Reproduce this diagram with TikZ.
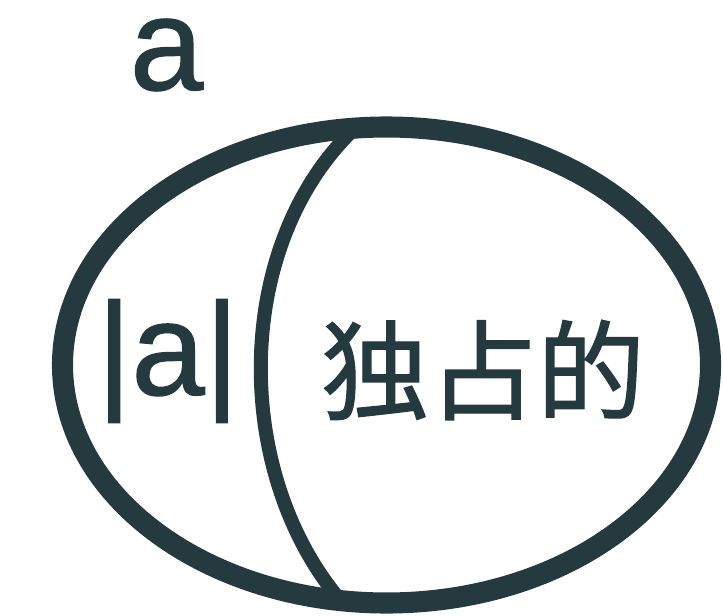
\documentclass[tikz,border=0pt]{standalone}
\usepackage{fontspec}
\setmainfont{Liberation Sans}[FakeBold=1]
\newfontfamily\cjkfont{Noto Sans CJK SC}[FakeBold=1.2]
\usetikzlibrary{positioning}
\definecolor{slate}{HTML}{243A3F}
\tikzset{
  setline/.style={draw=slate, line width=12pt},
  cutline/.style={draw=slate, line width=8pt},
  setlbl/.style={text=slate, inner sep=0pt, font=\fontsize{75}{80}\selectfont},
  cjklbl/.style={text=slate, inner sep=0pt, font=\cjkfont\fontsize{61.5}{66}\selectfont}
}
\begin{document}
\begin{tikzpicture}[x=0.02cm,y=-0.02cm]
  \useasboundingbox (0,0) rectangle (723,615);
  \draw[setline] (386.5,365) ellipse [x radius=324, y radius=238];
  \coordinate (top) at (355,128);
  \coordinate (bot) at (340,600);
  \draw[cutline] (top) .. controls (232,245) and (232,472) .. (bot);
  \node[setlbl] (name) at (166.5,55) {a};
  \node[setlbl] (card) at (168,361) {|a|};
  \node[cjklbl] (excl) at (483,370) {独占的};
\end{tikzpicture}
\end{document}
